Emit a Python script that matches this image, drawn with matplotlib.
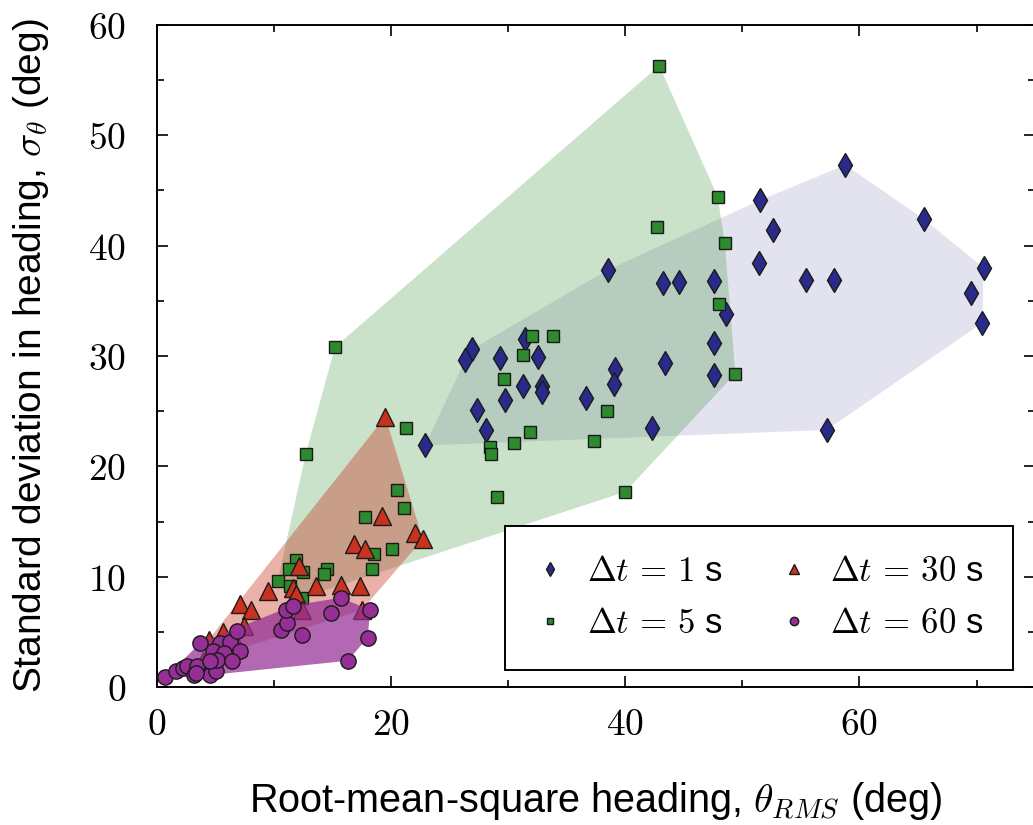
import matplotlib
matplotlib.use("Agg")
import matplotlib.pyplot as plt
from matplotlib.ticker import MultipleLocator, FuncFormatter

plt.rcParams['font.family'] = ['Liberation Sans', 'DejaVu Sans']
plt.rcParams['mathtext.fontset'] = 'cm'

# Δt = 1 s (diamonds)
x_1s = [38.5, 43.2, 44.6, 47.6, 48.6, 51.4, 31.4, 26.9, 26.3, 29.3, 32.5, 47.6,
        39.1, 43.4, 47.6, 31.3, 32.9, 32.9, 39.0, 29.7, 36.6, 27.3, 28.1, 42.3,
        22.9, 58.8, 51.5, 65.5, 52.6, 70.6, 55.4, 57.8, 69.5, 70.5, 57.2]
y_1s = [37.8, 36.6, 36.7, 36.8, 33.8, 38.4, 31.5, 30.6, 29.6, 29.8, 29.9, 31.2,
        28.8, 29.4, 28.3, 27.3, 27.3, 26.7, 27.5, 26.0, 26.2, 25.1, 23.3, 23.5,
        21.9, 47.3, 44.1, 42.4, 41.4, 38.0, 36.9, 36.9, 35.7, 33.0, 23.3]

# Δt = 5 s (squares)
x_5s = [42.9, 47.9, 42.7, 48.5, 48.0, 32.0, 33.8, 31.3, 49.4, 29.6, 38.4, 21.3,
        31.9, 30.5, 37.3, 28.4, 28.5, 40.0, 29.0, 20.5, 21.1, 15.2, 12.7, 17.8,
        20.1, 18.5, 18.4, 11.9, 11.3, 12.5, 14.5, 14.3, 10.3, 11.4, 12.4]
y_5s = [56.3, 44.4, 41.7, 40.2, 34.7, 31.8, 31.8, 30.1, 28.4, 27.9, 25.0, 23.5,
        23.1, 22.1, 22.3, 21.8, 21.1, 17.7, 17.2, 17.9, 16.2, 30.8, 21.1, 15.4,
        12.5, 12.1, 10.7, 11.5, 10.7, 10.4, 10.7, 10.3, 9.6, 9.2, 8.1]

# Δt = 30 s (triangles)
x_30s = [19.5, 19.2, 22.0, 22.7, 16.8, 17.8, 12.1, 13.6, 15.7, 17.3, 9.5, 11.6,
         11.9, 7.1, 8.0, 12.4, 17.5, 7.4, 5.6, 6.9, 4.4, 3.9, 6.3]
y_30s = [24.5, 15.5, 14.0, 13.4, 13.0, 12.5, 11.0, 9.2, 9.3, 9.2, 8.7, 9.0,
         8.4, 7.5, 7.0, 7.0, 7.0, 5.5, 5.0, 3.6, 4.3, 2.4, 4.2]

# Δt = 60 s (circles)
x_60s = [0.7, 1.6, 2.2, 2.6, 3.2, 4.5, 5.0, 3.4, 3.7, 5.4, 6.2, 6.8, 4.8, 5.7,
         7.1, 5.1, 6.4, 10.6, 11.1, 12.4, 11.0, 11.6, 14.9, 15.7, 18.2, 18.0,
         16.3, 4.5, 3.3]
y_60s = [0.9, 1.5, 1.7, 1.9, 1.1, 1.1, 1.5, 1.9, 4.0, 4.0, 4.1, 5.1, 3.3, 3.1,
         3.3, 2.5, 2.4, 5.2, 5.8, 4.7, 7.0, 7.4, 6.7, 8.1, 7.0, 4.5,
         2.4, 2.4, 1.3]

labels = [r'$\Delta t\,=\,1$ s', r'$\Delta t\,=\,5$ s',
          r'$\Delta t\,=\,30$ s', r'$\Delta t\,=\,60$ s']


def hull(xs, ys):
    # monotone chain convex hull
    pts = sorted(set(zip(xs, ys)))

    def cross(o, a, b):
        return (a[0] - o[0]) * (b[1] - o[1]) - (a[1] - o[1]) * (b[0] - o[0])

    lower = []
    for p in pts:
        while len(lower) >= 2 and cross(lower[-2], lower[-1], p) <= 0:
            lower.pop()
        lower.append(p)
    upper = []
    for p in reversed(pts):
        while len(upper) >= 2 and cross(upper[-2], upper[-1], p) <= 0:
            upper.pop()
        upper.append(p)
    h = lower[:-1] + upper[:-1]
    return [p[0] for p in h], [p[1] for p in h]


fig = plt.figure(figsize=(10.33, 8.25), dpi=100)
ax = fig.add_axes([0.152, 0.167, 0.85, 0.803])

# colour, marker, size, hull alpha, hull zorder, marker zorder
series = [
    (x_1s, y_1s, '#2a2a8a', 'd', 12.5, 0.13, 1, 4),
    (x_5s, y_5s, '#2e8a2e', 's', 9.0, 0.25, 2, 5),
    (x_30s, y_30s, '#c8321e', '^', 12.5, 0.38, 3, 6),
    (x_60s, y_60s, '#952e95', 'o', 11.0, 0.72, 7, 8),
]

handles = []
for (xs, ys, col, mk, ms, alpha, zh, zm), lab in zip(series, labels):
    hx, hy = hull(xs, ys)
    ax.fill(hx, hy, color=col, alpha=alpha, lw=0, zorder=zh)
    ln, = ax.plot(xs, ys, ls='none', marker=mk, ms=ms, mfc=col, mec='#1a1a1a',
                  mew=1.0, zorder=zm, label=lab)
    handles.append(ln)

ax.set_xlim(0, 75)
ax.set_ylim(0, 60)
ax.xaxis.set_major_locator(MultipleLocator(20))
ax.xaxis.set_minor_locator(MultipleLocator(10))
ax.yaxis.set_major_locator(MultipleLocator(10))
ax.yaxis.set_minor_locator(MultipleLocator(5))
fmt = FuncFormatter(lambda v, p: r'$%d$' % v)
ax.xaxis.set_major_formatter(fmt)
ax.yaxis.set_major_formatter(fmt)
ax.tick_params(which='both', direction='in', top=True, right=True,
               labelsize=27, width=1.2)
ax.tick_params(which='major', length=8)
ax.tick_params(which='minor', length=5)
ax.tick_params(axis='x', pad=14)
ax.tick_params(axis='y', pad=22)
for s in ax.spines.values():
    s.set_linewidth(1.4)

ax.set_xlabel(r'Root-mean-square heading, $\theta_{RMS}$ (deg)', fontsize=28.5,
              labelpad=27)
ax.set_ylabel(r'Standard deviation in heading, $\sigma_\theta$ (deg)',
              fontsize=28, labelpad=27)

leg = ax.legend(handles=handles, ncol=2, loc='lower right',
                bbox_to_anchor=(0.975, 0.026), borderaxespad=0, fontsize=25,
                markerscale=0.55, fancybox=False, edgecolor='black',
                framealpha=1, handletextpad=0.6, columnspacing=1.6,
                handlelength=0.9, borderpad=0.85, labelspacing=0.55)
leg.get_frame().set_linewidth(1.4)
leg.set_zorder(10)

fig.savefig('out.png', dpi=100)
